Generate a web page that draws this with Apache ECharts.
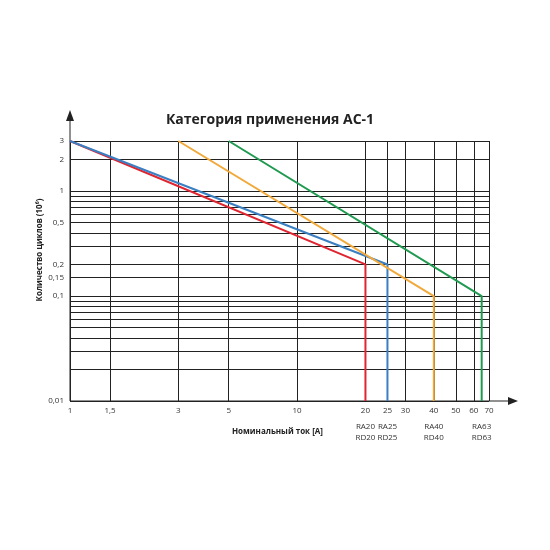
<!DOCTYPE html><html><head><meta charset="utf-8"><script src="https://cdn.jsdelivr.net/npm/echarts@6/dist/echarts.min.js"></script></head><body style="margin:0"><div id="c" style="width:550px;height:550px"></div><script>
const xGrid=[1,1.5,3,5,10,20,25,30,40,50,60,70];
const xLabels=['1','1,5','3','5','10','20','25','30','40','50','60','70'];
const yGrid=[3,2,1,0.9,0.8,0.7,0.6,0.5,0.4,0.3,0.2,0.15,0.1,0.09,0.08,0.07,0.06,0.05,0.04,0.03,0.02,0.01];
const yLabels={3:'3',2:'2',1:'1',0.5:'0,5',0.2:'0,2',0.15:'0,15',0.1:'0,1',0.01:'0,01'};
const models=[[20,'RA20\nRD20'],[25,'RA25\nRD25'],[40,'RA40\nRD40'],[65,'RA63\nRD63']];
const red=[[1,3],[20,0.2],[20,0.01]];
const blue=[[1,3],[25,0.2],[25,0.01]];
const orange=[[3,3],[40,0.1],[40,0.01]];
const green=[[5,3],[65,0.1],[65,0.01]];
const F='"Open Sans",sans-serif';
const ch=echarts.init(document.getElementById('c'));
const gl={color:'#222',width:1,type:'solid'};
const mk=(d,c)=>({type:'line',data:d,symbol:'none',lineStyle:{color:c,width:2},z:5,animation:false});
ch.setOption({animation:false,
title:{text:'Категория применения АС-1',left:265,top:108,textAlign:'center',textStyle:{fontFamily:F,fontSize:14,fontWeight:'bold',color:'#222'}},
grid:{left:70,right:61,top:141,bottom:149},
xAxis:{type:'log',min:1,max:70,axisLine:{show:false},axisTick:{show:false},axisLabel:{show:false},splitLine:{show:false}},
yAxis:{type:'log',min:0.01,max:3,axisLine:{show:false},axisTick:{show:false},axisLabel:{show:false},splitLine:{show:false}},
series:[
{type:'line',data:[],silent:true,markLine:{silent:true,symbol:'none',animation:false,lineStyle:gl,
 data:[...xGrid.map((v,i)=>({xAxis:v,label:{show:true,position:'start',distance:6,formatter:xLabels[i],fontFamily:F,fontSize:8,color:'#333'}})),
 ...models.map(m=>({xAxis:m[0],lineStyle:{color:'rgba(0,0,0,0)'},label:{show:true,position:'start',distance:20,formatter:m[1],fontFamily:F,fontSize:8,color:'#333',lineHeight:11}})),
 ...yGrid.map(v=>({yAxis:v,label:{show:yLabels[v]!==undefined,position:'start',distance:6,formatter:yLabels[v]||'',fontFamily:F,fontSize:8,color:'#333'}}))]}},
mk(red,'#e02430'),mk(blue,'#3a7fc2'),mk(orange,'#f2a93b'),mk(green,'#1f9a50')],
graphic:[
{type:'line',shape:{x1:70,y1:401,x2:510,y2:401},style:{stroke:'#222',lineWidth:1}},
{type:'polygon',shape:{points:[[518,401],[508,397],[508,405]]},style:{fill:'#222'}},
{type:'line',shape:{x1:70,y1:401,x2:70,y2:118},style:{stroke:'#222',lineWidth:1}},
{type:'polygon',shape:{points:[[70,110],[66,121],[74,121]]},style:{fill:'#222'}},
{type:'text',x:40,y:250,rotation:Math.PI/2,style:{text:'Количество циклов (10⁶)',align:'center',verticalAlign:'middle',font:'bold 8px "Open Sans",sans-serif',fill:'#222'}},
{type:'text',x:232,y:428,style:{text:'Номинальный ток [A]',font:'bold 8px "Open Sans",sans-serif',fill:'#222'}}
]});
</script></body></html>
